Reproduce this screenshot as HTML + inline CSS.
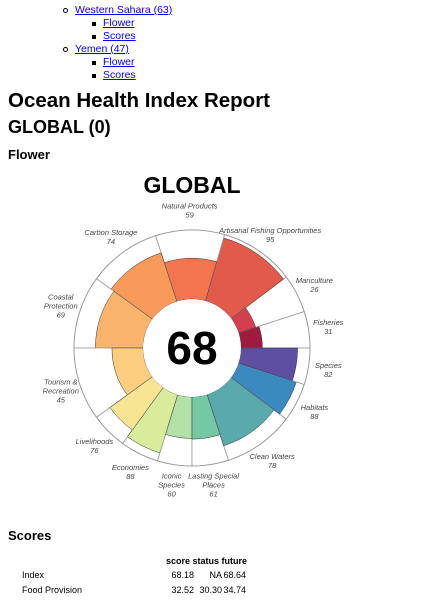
<!DOCTYPE html>
<html><head><meta charset="utf-8"><style>
body{margin:0;background:#fff;font-family:"Liberation Sans",Arial,sans-serif;color:#000;width:443px;height:600px;overflow:hidden;position:relative}
a{color:#00e;text-decoration:underline}
.t{position:absolute;font-size:10.5px;white-space:nowrap}
.b1{position:absolute;width:5px;height:5px;border:1px solid #000;border-radius:50%;box-sizing:border-box}
.b2{position:absolute;width:4px;height:4px;background:#000}
h1,h2,h3{position:absolute;margin:0;left:8px;white-space:nowrap}
.c{position:absolute;font-size:9px;text-align:right}
</style></head><body>
<div class="b1" style="left:63px;top:8px"></div>
<a class="t" style="left:75px;top:4px" href="#">Western Sahara (63)</a>
<div class="b2" style="left:92px;top:22px"></div>
<a class="t" style="left:103px;top:17px" href="#">Flower</a>
<div class="b2" style="left:92px;top:35px"></div>
<a class="t" style="left:103px;top:30px" href="#">Scores</a>
<div class="b1" style="left:63px;top:47px"></div>
<a class="t" style="left:75px;top:43px" href="#">Yemen (47)</a>
<div class="b2" style="left:92px;top:61px"></div>
<a class="t" style="left:103px;top:56px" href="#">Flower</a>
<div class="b2" style="left:92px;top:74px"></div>
<a class="t" style="left:103px;top:69px" href="#">Scores</a>
<h1 style="top:89px;font-size:20.5px">Ocean Health Index Report</h1>
<h2 style="top:117px;font-size:18px">GLOBAL (0)</h2>
<h3 style="top:147px;font-size:13px">Flower</h3>
<svg id="flower" width="443" height="400" style="position:absolute;left:0;top:160px"></svg>
<h3 style="top:528px;font-size:13px">Scores</h3>
<div class="c" style="left:166px;top:556px;font-weight:bold">score status future</div>
<div class="c" style="left:22px;top:570px;text-align:left">Index</div>
<div class="c" style="left:166px;top:570px;width:28px">68.18</div>
<div class="c" style="left:196px;top:570px;width:26px">NA</div>
<div class="c" style="left:222px;top:570px;width:24px">68.64</div>
<div class="c" style="left:22px;top:585px;text-align:left">Food Provision</div>
<div class="c" style="left:166px;top:585px;width:28px">32.52</div>
<div class="c" style="left:196px;top:585px;width:26px">30.30</div>
<div class="c" style="left:222px;top:585px;width:24px">34.74</div>
<script>
const goals = ["Fisheries","Mariculture","Artisanal Fishing Opportunities","Natural Products","Carbon Storage","Coastal\nProtection","Tourism &\nRecreation","Livelihoods","Economies","Iconic\nSpecies","Lasting Special\nPlaces","Clean Waters","Habitats","Species"];
const scores = [31,26,95,59,74,69,45,76,88,60,61,78,88,82];
const weights = [18,19,37,34,36,36,36,18,19,17,18,35,19,18];
const colors = ["#a0193f","#d53e4f","#e25a4c","#f27550","#f79a5a","#fbb46b","#fdce7e","#f8e594","#d8ec9c","#b3e0a6","#75c8a4","#5aa9ad","#3a8abf","#5e4fa2"];
const indexScore = 68;
const title = "GLOBAL";

const svg = document.getElementById('flower');
const NS = "http://www.w3.org/2000/svg";
const cx = 192, cy = 188, r0 = 49, R = 118;
const total = weights.reduce((a,b)=>a+b,0);
function ang(w){return w/total*2*Math.PI;}
function rad(s){return r0 + (R - r0)*s/100;}
function pt(r,a){return [cx + r*Math.cos(a), cy - r*Math.sin(a)];}
function sector(ri,ro,a1,a2){
  const p1=pt(ro,a1),p2=pt(ro,a2),p3=pt(ri,a2),p4=pt(ri,a1);
  const lg=(a2-a1)>Math.PI?1:0;
  return `M${p1[0]},${p1[1]} A${ro},${ro} 0 ${lg} 0 ${p2[0]},${p2[1]} L${p3[0]},${p3[1]} A${ri},${ri} 0 ${lg} 1 ${p4[0]},${p4[1]} Z`;
}
function mk(tag,attrs){const e=document.createElementNS(NS,tag);for(const k in attrs)e.setAttribute(k,attrs[k]);svg.appendChild(e);return e;}

let a = 0;
goals.forEach((g,i)=>{
  const a1=a, a2=a+ang(weights[i]); a=a2;
  const bg=mk('path',{d:sector(r0,R,a1,a2),fill:'#fff',stroke:'#999','stroke-width':0.8});
  
  
  const p=mk('path',{d:sector(r0,rad(scores[i]),a1,a2),fill:colors[i],stroke:'#333','stroke-width':0.5});
  
  
  const m=(a1+a2)/2, lp=pt(138,m);
  const lines=g.split("\n").concat([String(scores[i])]);
  const t=mk('text',{x:lp[0],y:lp[1]-(lines.length-1)*4.5+3,'text-anchor':'middle','font-size':7.5,'font-style':'italic',fill:'#444','font-family':'Liberation Sans, sans-serif'});
  
  
  lines.forEach((l,j)=>{const s=document.createElementNS(NS,'tspan');s.setAttribute('x',lp[0]);s.setAttribute('dy',j?9:0);s.textContent=l;t.appendChild(s);});
});
const oc=mk('circle',{cx:cx,cy:cy,r:R,fill:'none',stroke:'#999','stroke-width':0.8});


const ic=mk('circle',{cx:cx,cy:cy,r:r0,fill:'#fff',stroke:'none'});


const ct=mk('text',{x:cx,y:cy+16,'text-anchor':'middle','font-size':46,'font-weight':'bold','font-family':'Liberation Sans, sans-serif'});
ct.textContent=indexScore;


const tt=mk('text',{x:cx,y:33,'text-anchor':'middle','font-size':23,'font-weight':'bold','font-family':'Liberation Sans, sans-serif'});
tt.textContent=title;


</script>
</body></html>
